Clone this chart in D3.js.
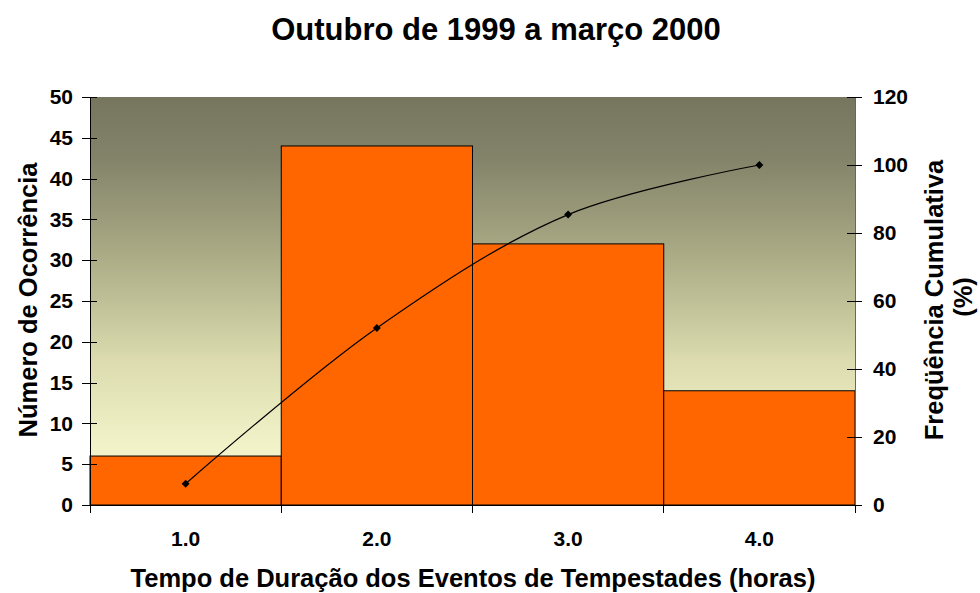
<!DOCTYPE html>
<html>
<head>
<meta charset="utf-8">
<script src="https://cdn.jsdelivr.net/npm/d3@7"></script>
<style>
  html, body { margin: 0; padding: 0; background: #fff; }
  text { font-family: "Liberation Sans", Arial, sans-serif; font-weight: bold; fill: #000; }
</style>
</head>
<body>
<svg id="chart" width="980" height="593"></svg>
<script>
// Duration classes (hours) and number of storm events in each
const categories = ["1.0", "2.0", "3.0", "4.0"];
const occurrences = [6, 44, 32, 14];
// Cumulative frequency (%) at each class
const cumulativePct = [6.25, 52.08, 85.42, 100];
const leftTicks = [0, 5, 10, 15, 20, 25, 30, 35, 40, 45, 50];
const rightTicks = [0, 20, 40, 60, 80, 100, 120];

const svg = d3.select("#chart");
const m = { left: 90, right: 855, top: 97, bottom: 505 };
const FONT = "'Liberation Sans', Arial, sans-serif";

const x = d3.scaleBand().domain(categories).range([m.left, m.right]).padding(0);
const yL = d3.scaleLinear().domain([0, 50]).range([m.bottom, m.top]);
const yR = d3.scaleLinear().domain([0, 120]).range([m.bottom, m.top]);

// Plot-area background gradient
const defs = svg.append("defs");
const grad = defs.append("linearGradient").attr("id", "bg")
  .attr("x1", 0).attr("y1", 0).attr("x2", 0).attr("y2", 1);
[["0%", "#76765e"], ["15%", "#83836a"], ["40%", "#adad87"], ["65%", "#dcdcb0"], ["85%", "#f2f2c8"], ["100%", "#fbfbd3"]]
  .forEach(([o, c]) => grad.append("stop").attr("offset", o).attr("stop-color", c));

svg.append("rect")
  .attr("x", m.left).attr("y", m.top)
  .attr("width", m.right - m.left).attr("height", m.bottom - m.top)
  .attr("fill", "url(#bg)");

// Histogram bars
svg.append("g").selectAll("rect").data(occurrences).join("rect")
  .attr("x", (d, i) => x(categories[i]))
  .attr("y", d => yL(d))
  .attr("width", x.bandwidth())
  .attr("height", d => yL(0) - yL(d))
  .attr("fill", "#ff6600")
  .attr("stroke", "#000")
  .attr("stroke-width", 1);

// Plot frame: left and right axis lines, baseline
const axisG = svg.append("g").attr("stroke", "#000").attr("stroke-width", 1).attr("shape-rendering", "crispEdges");
axisG.append("line").attr("x1", m.left).attr("x2", m.left).attr("y1", m.top).attr("y2", m.bottom);
axisG.append("line").attr("x1", m.right).attr("x2", m.right).attr("y1", m.top).attr("y2", m.bottom).attr("stroke", "#666");
axisG.append("line").attr("x1", m.left).attr("x2", m.right).attr("y1", m.bottom).attr("y2", m.bottom);

// Left axis
const gL = svg.append("g").attr("transform", `translate(${m.left},0)`)
  .call(d3.axisLeft(yL).tickValues(leftTicks).tickSize(8).tickPadding(9).tickFormat(d3.format("d")));
gL.select(".domain").remove();
gL.selectAll(".tick line").attr("x2", -8).attr("x1", 7).attr("shape-rendering", "crispEdges");
gL.selectAll(".tick text").style("font-size", "21px").style("font-family", FONT).style("font-weight", "bold");

// Right axis
const gR = svg.append("g").attr("transform", `translate(${m.right},0)`)
  .call(d3.axisRight(yR).tickValues(rightTicks).tickSize(7).tickPadding(11).tickFormat(d3.format("d")));
gR.select(".domain").remove();
gR.selectAll(".tick line").attr("x1", -8).attr("x2", 7).attr("shape-rendering", "crispEdges");
gR.selectAll(".tick text").style("font-size", "21px").style("font-family", FONT).style("font-weight", "bold");

// Bottom axis: ticks at class boundaries, labels at class centres
const xEdges = categories.map(c => x(c)).concat([m.right]);
svg.append("g").selectAll("line").data(xEdges).join("line")
  .attr("x1", d => d).attr("x2", d => d)
  .attr("y1", m.bottom).attr("y2", m.bottom + 8)
  .attr("stroke", "#000").attr("shape-rendering", "crispEdges");
svg.append("g").selectAll("text").data(categories).join("text")
  .attr("x", d => x(d) + x.bandwidth() / 2)
  .attr("y", 546)
  .attr("text-anchor", "middle")
  .style("font-size", "21px")
  .text(d => d);

// Cumulative frequency curve
const yPts = cumulativePct.map((v, i) => [x(categories[i]) + x.bandwidth() / 2, yR(v)]);
svg.append("path")
  .attr("d", d3.line().curve(d3.curveCatmullRom.alpha(0.5))(yPts))
  .attr("fill", "none").attr("stroke", "#000").attr("stroke-width", 1.2);
svg.append("g").selectAll("path").data(yPts).join("path")
  .attr("transform", d => `translate(${d[0]},${d[1]}) rotate(45)`)
  .attr("d", "M-2.8,-2.8H2.8V2.8H-2.8Z")
  .attr("fill", "#000");

// Titles
svg.append("text").attr("x", 496).attr("y", 40).attr("text-anchor", "middle")
  .style("font-size", "31px").text("Outubro de 1999 a março 2000");
svg.append("text").attr("x", 473).attr("y", 587).attr("text-anchor", "middle")
  .style("font-size", "25.5px").text("Tempo de Duração dos Eventos de Tempestades (horas)");
svg.append("text").attr("transform", "translate(37,300) rotate(-90)").attr("text-anchor", "middle")
  .style("font-size", "25.5px").text("Número de Ocorrência");
svg.append("text").attr("transform", "translate(943,300) rotate(-90)").attr("text-anchor", "middle")
  .style("font-size", "25.5px").text("Freqüência Cumulativa");
svg.append("text").attr("transform", "translate(972,297) rotate(-90)").attr("text-anchor", "middle")
  .style("font-size", "25.5px").text("(%)");
</script>
</body>
</html>
